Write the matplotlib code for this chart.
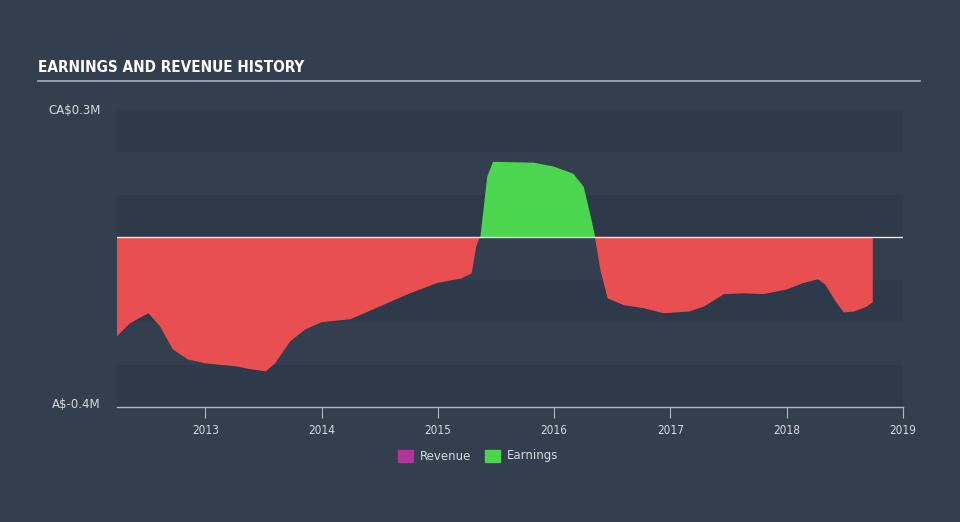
import matplotlib
matplotlib.use("Agg")
import matplotlib.pyplot as plt
import numpy as np

# decimal years and earnings (CA$ millions)
years = [2012.24, 2012.35, 2012.51, 2012.61, 2012.72, 2012.85, 2013.00, 2013.26, 2013.39,
         2013.52, 2013.60, 2013.73, 2013.86, 2014.00, 2014.25, 2014.50, 2014.76, 2014.99,
         2015.20, 2015.29, 2015.33, 2015.36, 2015.42, 2015.47, 2015.82, 2015.99, 2016.16,
         2016.25, 2016.31, 2016.35, 2016.40, 2016.46, 2016.60, 2016.77, 2016.94, 2017.16,
         2017.29, 2017.46, 2017.63, 2017.80, 2018.00, 2018.14, 2018.27, 2018.33, 2018.42,
         2018.49, 2018.58, 2018.69, 2018.74]
earnings = [-0.233, -0.203, -0.179, -0.210, -0.264, -0.288, -0.297, -0.304, -0.311,
            -0.316, -0.297, -0.245, -0.217, -0.200, -0.193, -0.163, -0.132, -0.108,
            -0.097, -0.085, -0.021, 0.000, 0.144, 0.179, 0.177, 0.168, 0.151,
            0.120, 0.050, 0.000, -0.080, -0.144, -0.160, -0.167, -0.179, -0.175,
            -0.163, -0.134, -0.132, -0.134, -0.123, -0.108, -0.099, -0.111, -0.151,
            -0.177, -0.175, -0.163, -0.153]

xticks = [2013, 2014, 2015, 2016, 2017, 2018, 2019]
ymin, ymax = -0.4, 0.3

bg = "#333f4f"
band = "#2e3a49"
red = "#e94e51"
green = "#4cd64f"
magenta = "#b0359a"
txt = "#d6dae0"

fig = plt.figure(figsize=(9.6, 5.22), dpi=100, facecolor=bg)
ax = fig.add_axes([117/960, 115/522, 786/960, 297/522])
ax.set_facecolor(bg)
ax.set_xlim(2012.24, 2019.0)
ax.set_ylim(ymin, ymax)

# alternating horizontal bands
edges = np.arange(ymin, ymax + 1e-9, 0.1)
for i in range(len(edges) - 1):
    if i % 2 == 0:
        ax.axhspan(edges[i], edges[i+1], color=band, lw=0, zorder=0)

x = np.array(years)
y = np.array(earnings)
ax.fill_between(x, y, 0, where=y <= 0, color=red, lw=0, zorder=2, interpolate=True)
ax.fill_between(x, y, 0, where=y >= 0, color=green, lw=0, zorder=2, interpolate=True)
ax.axhline(0, color="#f4dede", lw=1.0, zorder=3)

for s in ["top", "right", "left"]:
    ax.spines[s].set_visible(False)
ax.spines["bottom"].set_color("#aeb8c4")
ax.spines["bottom"].set_linewidth(1.0)
ax.set_xticks(xticks)
ax.set_xticklabels([str(t) for t in xticks], color=txt, fontsize=8.5, family="DejaVu Sans",
                   fontstretch="condensed")
ax.tick_params(axis="x", length=8, width=0.8, color="#aeb8c4", pad=4)
ax.set_yticks([])

fig.text(101/960, 1 - 110/522, "CA$0.3M", ha="right", va="center", color=txt, fontsize=8.5)
fig.text(101/960, 1 - 405/522, "A$-0.4M", ha="right", va="center", color=txt, fontsize=8.5)

fig.text(38/960, 1 - 68/522, "EARNINGS AND REVENUE HISTORY", ha="left", va="center",
         color="white", fontsize=11, fontweight="bold", fontstretch="condensed",
         family="DejaVu Sans")
fig.add_artist(plt.Line2D([38/960, 920/960], [1 - 81/522, 1 - 81/522],
                          color="#aab2bd", lw=1.2, transform=fig.transFigure))

# legend
from matplotlib.patches import Rectangle
ly = 1 - 456/522
fig.add_artist(Rectangle((398/960, ly - 6/522), 15/960, 12/522, color=magenta,
                         transform=fig.transFigure))
fig.text(420/960, ly, "Revenue", ha="left", va="center", color=txt, fontsize=8.5)
fig.add_artist(Rectangle((485/960, ly - 6/522), 15/960, 12/522, color=green,
                         transform=fig.transFigure))
fig.text(507/960, ly, "Earnings", ha="left", va="center", color=txt, fontsize=8.5)

fig.savefig("out.png", dpi=100, facecolor=bg)
